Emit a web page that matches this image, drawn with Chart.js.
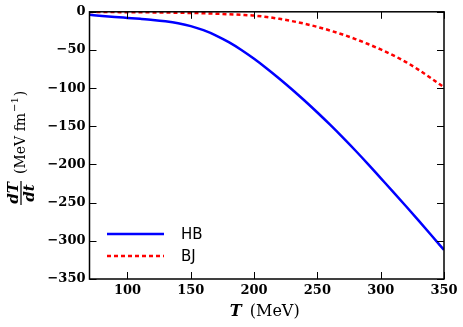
<!DOCTYPE html>
<html>
<head>
<meta charset="utf-8">
<script src="https://cdn.jsdelivr.net/npm/chart.js@4/dist/chart.umd.min.js"></script>
<style>
  html, body { margin: 0; padding: 0; background: #fff; }
  #wrap { width: 463px; height: 327px; }
</style>
</head>
<body>
<div id="wrap"><canvas id="dtChart" width="463" height="327"></canvas></div>
<script>
// temperature grid (MeV)
const temps = [70, 80, 90, 100, 110, 120, 130, 140, 150, 160, 170, 180, 190, 200, 210,
               220, 230, 240, 250, 260, 270, 280, 290, 300, 310, 320, 330, 340, 350];

// dT/dt (MeV fm^-1)
const hbValues = [-4, -5.5, -6.8, -8, -9.2, -10.6, -12.5, -15.1, -18.8, -24.1, -31.1, -39.8, -50, -61.6, -74.2,
                  -87.6, -101.7, -116.5, -131.9, -147.9, -164.5, -181.7, -199.5, -217.8, -236.1, -254.7, -273.6, -292.7, -312];
const bjValues = [-0.3, -0.35, -0.4, -0.5, -0.6, -0.8, -1, -1.2, -1.5, -1.9, -2.5, -3.2, -4, -5, -6.8,
                  -9.2, -12.2, -15.7, -19.8, -24.5, -29.8, -35.7, -42.2, -49.3, -57.1, -65.9, -76, -87.2, -99];

const xTicks = [100, 150, 200, 250, 300, 350];
const yTicks = [0, -50, -100, -150, -200, -250, -300, -350];

const serif = '"DejaVu Serif", "Liberation Serif", serif';

// inward ticks on all four sides + frame
const frameTicks = {
    id: 'frameTicks',
    afterDraw(chart) {
        const { ctx, chartArea: a, scales: { x, y } } = chart;
        const len = 7;
        ctx.save();
        ctx.strokeStyle = '#000';
        ctx.lineWidth = 1;
        ctx.beginPath();
        xTicks.forEach(v => {
            const px = Math.round(x.getPixelForValue(v)) + 0.5;
            ctx.moveTo(px, a.bottom); ctx.lineTo(px, a.bottom - len);
            ctx.moveTo(px, a.top); ctx.lineTo(px, a.top + len);
        });
        yTicks.forEach(v => {
            const py = Math.round(y.getPixelForValue(v)) + 0.5;
            ctx.moveTo(a.left, py); ctx.lineTo(a.left + len, py);
            ctx.moveTo(a.right, py); ctx.lineTo(a.right - len, py);
        });
        ctx.stroke();
        ctx.lineWidth = 1.5;
        ctx.strokeRect(a.left, a.top, a.right - a.left, a.bottom - a.top);
        ctx.restore();
    }
};

// axis titles and the legend box in the lower left
const labels = {
    id: 'labels',
    afterDraw(chart) {
        const { ctx, chartArea: a } = chart;
        ctx.save();
        ctx.fillStyle = '#000';

        // x title
        const cx = (a.left + a.right) / 2;
        ctx.textBaseline = 'middle';
        ctx.textAlign = 'left';
        ctx.font = 'bold italic 16px ' + serif;
        ctx.fillText('T', cx - 37, 312);
        ctx.font = '16px ' + serif;
        ctx.fillText('(MeV)', cx - 17, 312);

        // y title, rotated
        ctx.translate(21, 193);
        ctx.rotate(-Math.PI / 2);
        ctx.textAlign = 'center';
        ctx.font = 'bold italic 15px ' + serif;
        ctx.textBaseline = 'alphabetic';
        ctx.fillText('dT', 0, -3);
        ctx.textBaseline = 'top';
        ctx.fillText('dt', 0, 2);
        ctx.fillRect(-12, -0.6, 24, 1.2);
        ctx.textAlign = 'left';
        ctx.textBaseline = 'middle';
        ctx.font = '14px ' + serif;
        ctx.fillText('(MeV fm', 19, 0);
        const w = ctx.measureText('(MeV fm').width;
        ctx.font = '10px ' + serif;
        ctx.fillText('\u22121', 19 + w + 1, -6);
        const w2 = ctx.measureText('\u22121').width;
        ctx.font = '14px ' + serif;
        ctx.fillText(')', 19 + w + w2 + 2, 0);
        ctx.restore();

        // legend
        const sets = chart.data.datasets;
        const rows = [234, 256];
        ctx.save();
        sets.forEach((ds, i) => {
            ctx.beginPath();
            ctx.strokeStyle = ds.borderColor;
            ctx.lineWidth = ds.borderWidth;
            ctx.setLineDash(ds.borderDash || []);
            ctx.moveTo(107, rows[i]);
            ctx.lineTo(164, rows[i]);
            ctx.stroke();
            ctx.setLineDash([]);
            ctx.fillStyle = '#000';
            ctx.font = '15px "DejaVu Sans", sans-serif';
            ctx.textBaseline = 'middle';
            ctx.textAlign = 'left';
            ctx.fillText(ds.label, 181, rows[i] + 1);
        });
        ctx.restore();
    }
};

const fmt = v => (v < 0 ? '\u2212' + Math.abs(v) : String(v));

new Chart(document.getElementById('dtChart'), {
    type: 'line',
    data: {
        labels: temps,
        datasets: [{
            label: 'HB',
            data: temps.map((t, i) => ({ x: t, y: hbValues[i] })),
            borderColor: '#0000ff',
            borderWidth: 2.5,
            pointRadius: 0,
            cubicInterpolationMode: 'monotone',
            fill: false
        }, {
            label: 'BJ',
            data: temps.map((t, i) => ({ x: t, y: bjValues[i] })),
            borderColor: '#ff0000',
            borderWidth: 2.5,
            borderDash: [4, 3],
            pointRadius: 0,
            cubicInterpolationMode: 'monotone',
            fill: false
        }]
    },
    options: {
        responsive: false,
        animation: false,
        events: [],
        layout: { padding: { left: 0, top: 11, right: 19, bottom: 0 } },
        plugins: { legend: { display: false }, tooltip: { enabled: false } },
        scales: {
            x: {
                type: 'linear',
                min: 70,
                max: 350,
                afterBuildTicks: s => { s.ticks = xTicks.map(v => ({ value: v })); },
                afterFit: s => { s.height = 48; },
                grid: { display: false, drawTicks: false },
                border: { display: false },
                ticks: {
                    color: '#000',
                    padding: 4,
                    font: { family: serif, size: 13, weight: 'bold' },
                    callback: fmt
                }
            },
            y: {
                type: 'linear',
                min: -350,
                max: 0,
                afterBuildTicks: s => { s.ticks = yTicks.map(v => ({ value: v })); },
                afterFit: s => { s.width = 89.5; },
                grid: { display: false, drawTicks: false },
                border: { display: false },
                ticks: {
                    color: '#000',
                    padding: 4,
                    font: { family: serif, size: 13, weight: 'bold' },
                    callback: fmt
                }
            }
        }
    },
    plugins: [frameTicks, labels]
});
</script>
</body>
</html>
